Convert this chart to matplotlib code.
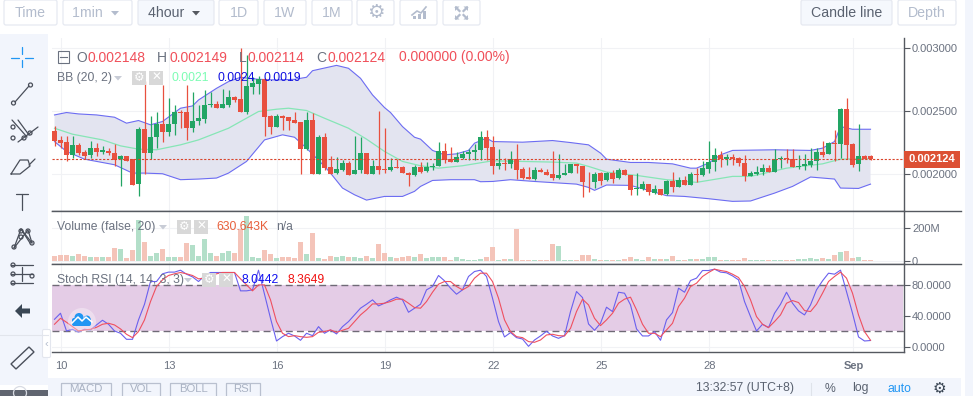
import numpy as np
import matplotlib
matplotlib.use('Agg')
import matplotlib.pyplot as plt
from matplotlib.patches import FancyBboxPatch, Rectangle, Circle, Polygon

plt.rcParams['font.family'] = ['Liberation Sans', 'DejaVu Sans']

# prices are in units of 0.000001
opens = [2343,2272,2257,2149,2233,2173,2149,2207,2178,2186,2168,2120,2147,2123,1921,2359,2165,2293,2398,2335,
         2396,2493,2493,2367,2420,2440,2546,2556,2527,2546,2609,2595,2496,2692,2716,2750,2461,2377,2461,2454,
         2430,2414,2202,2430,2002,2296,2057,2007,2036,2091,1999,2031,2170,1999,2068,2044,2031,2057,2060,2013,
         1992,2060,2023,2055,2063,2186,2123,2097,2133,2157,2173,2189,2293,2215,2063,2089,2078,2120,2044,1979,
         1965,2036,2021,2005,1973,1992,2007,2081,2068,1942,1937,2007,1952,2007,1968,2036,1997,1881,1884,1926,
         1852,1887,1842,1950,1900,1958,1916,2005,1992,2044,2094,2154,2120,2139,2128,2091,1986,1999,2018,2052,
         2018,2120,2131,2123,2055,2063,2076,2102,2175,2157,2249,2241,2517,2241,2078,2147,2148]
highs = [2383,2299,2299,2304,2246,2194,2265,2251,2220,2207,2241,2154,2147,2123,2377,2737,2461,2496,2706,2603,
         2548,2504,2706,2653,2548,2666,2653,2580,2671,2666,2619,3000,2942,2766,2777,2758,2469,2477,2469,2456,
         2490,2414,2496,2488,2312,2330,2147,2141,2115,2102,2299,2293,2170,2115,2501,2364,2128,2120,2063,2015,
         2076,2094,2097,2089,2259,2251,2215,2173,2181,2202,2241,2343,2351,2299,2202,2128,2186,2241,2055,2057,
         2057,2049,2044,2186,2162,2083,2081,2081,2068,2021,2015,2015,2015,2036,2049,2044,1997,2010,1944,1926,
         1913,1887,1958,2021,1981,1984,2015,2049,2107,2265,2207,2181,2162,2162,2141,2154,2023,2068,2083,2076,
         2199,2147,2199,2202,2154,2162,2207,2207,2262,2257,2351,2525,2603,2246,2398,2154,2149]
lows = [2220,2212,2102,2133,2149,2120,2128,2147,2162,2154,2068,1905,2107,1918,1826,2005,2123,2207,2259,2304,
        2312,2364,2272,2338,2393,2409,2535,2527,2527,2535,2574,2496,2477,2635,2635,2304,2320,2372,2351,2351,
        2406,2005,2194,1999,2002,2036,2002,2005,2023,1997,1999,2010,1999,1999,2005,2010,2023,2052,2007,1905,
        1984,2010,2018,2036,2063,2089,2094,2097,2120,2115,2115,2115,2115,2005,2041,2036,2047,1963,1965,1965,
        1958,2015,1997,1958,1965,1992,2007,2010,1818,1858,1892,1913,1944,1931,1965,1992,1834,1839,1879,1834,
        1847,1839,1839,1858,1897,1913,1913,1937,1989,2010,2023,2055,2076,2076,2063,1944,1984,1997,1997,2018,
        2015,2049,2089,2055,2044,2036,2057,2036,2136,2157,2102,2128,2120,2055,2023,2118,2114]
closes = [2267,2249,2149,2231,2165,2147,2207,2178,2189,2165,2115,2147,2107,1918,2359,2165,2296,2396,2335,2396,
          2490,2488,2364,2422,2446,2546,2556,2527,2553,2611,2590,2496,2695,2719,2750,2456,2375,2461,2448,2425,
          2406,2202,2427,1999,2296,2049,2002,2041,2089,1997,2034,2170,1999,2068,2036,2031,2057,2052,2007,1992,
          2057,2021,2057,2068,2186,2112,2094,2136,2162,2178,2196,2293,2212,2063,2089,2078,2118,2036,1973,1965,
          2034,2015,1997,1973,1994,2013,2081,2063,1937,1937,2002,1950,2007,1965,2034,1992,1879,1895,1923,1858,
          1884,1839,1947,1897,1955,1913,2005,1992,2049,2097,2154,2120,2139,2118,2086,1984,2013,2021,2049,2018,
          2120,2131,2120,2055,2068,2081,2105,2175,2154,2251,2241,2519,2235,2076,2147,2118,2124]

# volume in millions
volumes = [31,35,35,29,41,29,22,22,22,22,78,69,18,65,249,114,27,45,71,22,
           22,22,106,96,29,133,47,29,45,57,47,194,273,20,16,65,41,18,22,22,
           18,114,41,169,16,12,29,22,27,22,22,16,29,18,102,47,22,16,22,27,
           22,41,16,22,22,22,6,22,10,2,2,10,22,84,6,10,10,194,4,2,
           4,2,4,102,90,1,1,1,35,35,10,4,1,4,6,10,22,10,4,22,
           10,10,10,29,4,4,10,10,10,22,22,4,4,4,4,16,4,4,4,4,
           4,4,4,4,10,10,16,10,16,10,35,53,59,16,22,1,1]

# Bollinger band vertices (candle number, price)
upper_idx = [0,2,4,7,10,12,14,16,18,21,23,24,27,29,31,34,37,40,42,43,47,49,51,53,55,56,58,60,61,63,65,67,69,70,72,
             73,78,83,86,89,91,92,96,99,103,106,107,109,111,113,120,126,128,130,131,133,136]
upper_val = [2469,2488,2477,2469,2451,2404,2425,2391,2417,2522,2540,2587,2679,2732,2766,2750,2745,2750,2766,2818,
             2860,2837,2758,2627,2527,2488,2377,2293,2278,2189,2154,2162,2189,2246,2286,
             2259,2254,2267,2251,2233,2168,2120,2094,2094,2083,2049,2049,2089,2154,2189,2194,2189,2207,2259,2377,2356,2356]
mid_idx = [0,3,8,11,14,17,21,24,29,31,34,37,39,42,45,49,52,55,58,61,64,68,73,83,87,89,92,97,102,107,113,116,122,128,131,136]
mid_val = [2364,2317,2272,2225,2199,2194,2233,2272,2364,2417,2496,2514,2522,2504,2443,2364,2278,2181,2102,2068,2049,2068,
           2107,2097,2089,2063,2018,1992,1958,1937,1984,1984,2049,2083,2120,2125]
lower_idx = [0,2,5,10,13,15,18,21,24,27,29,32,35,38,40,42,45,46,48,50,52,55,58,60,61,63,66,70,71,73,76,80,87,89,90,92,96,
             99,102,105,109,113,116,120,123,126,130,131,134,136]
lower_val = [2259,2181,2120,2076,2010,2010,2005,1958,1963,1971,2010,2102,2272,2312,2293,2207,2063,2010,1892,1839,1797,
             1826,1826,1866,1905,1952,1958,1958,1942,1944,1958,1944,1923,1897,1874,1916,1913,
             1874,1832,1826,1808,1787,1790,1852,1905,1979,1963,1892,1889,1923]

stoch_k = [35.8,43.7,20.5,22.7,18.8,22.7,21.9,28.4,34.5,29.3,20.5,17.5,9.6,9.6,35,55.5,85.2,85.2,95.3,97.5,
           97.5,100,94.8,91.3,85.2,92.6,97,97,97,97,97,73,73,74.3,100,68.6,37.1,7.4,13.1,17.5,
           14,8.3,17.5,14.4,26.2,17.5,21.9,16.6,26.2,32.8,41.5,50.3,55.5,61.2,53.3,56.8,61.2,64.7,61.2,45,
           50.3,55.5,74.3,78.7,93.1,86.1,76.5,68.6,74.3,91.8,98.3,100,91.8,63.4,32.8,12.7,18.4,11.8,10,0.4,
           8.7,14,20.1,14,10.9,14.4,45.9,72.1,64.2,29.7,21.4,30.6,51.6,45.9,71.2,69.9,54.6,23.2,14,14,
           19.7,8.3,35,44.6,76.5,71.2,86.5,89.6,99.6,99.6,101.4,97.5,96.6,92.6,87.4,59,39.3,20.5,29.3,24.9,
           43.7,55.5,71.2,56.8,46.8,41.5,54.6,74.3,86.1,96.1,94.8,100.1,72.1,43.7,12.7,7.4,8.04]
stoch_d = [29.3,37.1,31.9,26.2,20.5,21.9,22.7,25.3,29.3,30.6,28.4,23.2,16.2,11.8,19.7,35,59,78.7,87.4,93.1,
           95.3,97,95.3,93.1,88.7,89.6,91.8,95.3,97,97,97,88.7,80.8,73,80.8,80.8,61.2,32.8,17.5,13.1,
           14.4,13.1,12.2,13.1,18.8,19.7,21.9,18.8,21.4,24,32.8,41.5,48.1,55.9,55.9,56.8,59,62.1,62.1,56.8,
           51.1,50.3,59,71.2,81.7,85.2,85.2,78.7,74.3,78.7,89.6,96.1,96.1,85.2,63.4,35,19.7,13.1,11.8,6.6,
           5.7,8.7,15.3,16.2,14.4,14,24,45.9,62.1,54.6,37.1,27.5,35,43.7,56.8,62.1,64.7,48.1,29.3,17.5,
           17.5,13.1,21.9,30.6,52.4,63.4,78.7,83,91.8,97,101.4,99.6,98.3,94.8,90.5,78.7,61.2,39.3,29.3,24.9,
           32.8,41.5,56.8,60.3,57.7,47.2,45.9,55.5,69.9,85.2,91.8,97.5,89.6,69.9,41.5,19.7,8.36]

day_ticks = [1.15, 19.15, 37.15, 55.15, 73.15, 91.15, 109.15, 133.15]
day_labels = ['10', '13', '16', '19', '22', '25', '28', 'Sep']
price_ticks = [0.002, 0.0025, 0.003]
volume_ticks = [0, 200]
stoch_ticks = [0, 40, 80]
last_price = 0.002124

RED = '#e8503f'
GREEN = '#22a564'
GREY = '#6b7280'
GRID = '#f1f2f5'
AXIS = '#555960'


def panel(top, bottom):
    ax = fig.add_axes([52 / 973, 1 - bottom / 396, (904.3 - 52) / 973, (bottom - top) / 396])
    ax.set_xlim(-0.417, 141.63)
    ax.set_facecolor('white')
    for side in ['top', 'left']:
        ax.spines[side].set_visible(False)
    for side in ['right', 'bottom']:
        ax.spines[side].set_color(AXIS)
        ax.spines[side].set_linewidth(1.0)
    ax.yaxis.tick_right()
    ax.tick_params(axis='y', length=4, width=0.8, color=AXIS, labelcolor=GREY, labelsize=8, pad=1.5)
    ax.set_xticks(day_ticks)
    ax.tick_params(axis='x', length=0)
    ax.set_xticklabels([])
    ax.grid(True, color=GRID, linewidth=0.8)
    ax.set_axisbelow(True)
    return ax


fig = plt.figure(figsize=(9.73, 3.96), dpi=100)

o = np.array(opens) / 1e6
h = np.array(highs) / 1e6
l = np.array(lows) / 1e6
c = np.array(closes) / 1e6
idx = np.arange(len(o))
up = c >= o
colors = np.where(up, GREEN, RED)

# candles and bands
ax = panel(38, 211)
ax.set_ylim(0.001711, 0.003076)
ax.set_yticks(price_ticks)
ax.set_yticklabels([f'{v:.6f}' for v in price_ticks])
ax.fill(np.r_[upper_idx, lower_idx[::-1]], np.r_[upper_val, lower_val[::-1]] / 1e6, color='#e3e4f0', lw=0, zorder=1)
ax.plot(upper_idx, np.array(upper_val) / 1e6, color='#6c6cf2', lw=0.8, zorder=2)
ax.plot(lower_idx, np.array(lower_val) / 1e6, color='#6c6cf2', lw=0.8, zorder=2)
ax.plot(mid_idx, np.array(mid_val) / 1e6, color='#86e6b6', lw=0.9, zorder=2)
ax.vlines(idx, l, h, colors=colors, lw=0.9, zorder=3)
ax.bar(idx, np.maximum(np.abs(c - o), 1.5e-6), bottom=np.minimum(o, c), width=0.72, color=colors, lw=0, zorder=4)
ax.axhline(last_price, color='#d9452c', lw=0.8, dashes=(2, 1.5), zorder=5)

# volume
ax2 = panel(211, 264.4)
ax2.set_ylim(-23.5, 307)
ax2.set_yticks(volume_ticks)
ax2.set_yticklabels(['0', '200M'])
ax2.bar(idx, volumes, width=0.83, color=np.where(up, '#b3dfc9', '#f4c4b9'), lw=0, zorder=3)

# stoch rsi
ax3 = panel(264.4, 352)
ax3.set_ylim(-7, 107.6)
ax3.set_yticks(stoch_ticks)
ax3.set_yticklabels([f'{v:.4f}' for v in stoch_ticks])
ax3.axhspan(21, 80, xmax=0.9985, color='#e4cce6', lw=0, zorder=1)
ax3.axhline(80, color='#6f6a76', lw=1.0, dashes=(5, 3), zorder=2)
ax3.axhline(21, color='#6f6a76', lw=1.0, dashes=(5, 3), zorder=2)
ax3.plot(idx, stoch_k, color='#6a60ee', lw=0.8, zorder=3)
ax3.plot(idx, stoch_d, color='#ef5060', lw=0.8, zorder=4)
for v, label in zip(day_ticks, day_labels):
    ax3.annotate(label, (v, 0), xycoords=('data', 'axes fraction'), xytext=(0, -10), textcoords='offset points',
                 ha='center', va='center', fontsize=8, color=GREY, fontweight='bold' if label == 'Sep' else 'normal')

# everything around the chart, in pixels
ov = fig.add_axes([0, 0, 1, 1], zorder=10)
ov.set_xlim(0, 973)
ov.set_ylim(396, 0)
ov.axis('off')


def button(x0, x1, y0, y1, label=None, color='#b3bccd', bg='white', size=10.2):
    ov.add_patch(FancyBboxPatch((x0 + 2, y0 + 2), x1 - x0 - 4, y1 - y0 - 4, boxstyle='round,pad=2',
                                fc=bg, ec='#e6e9f1', lw=0.9))
    if label:
        ov.text((x0 + x1) / 2, (y0 + y1) / 2 + 0.5, label, color=color, fontsize=size, ha='center', va='center')


def px_text(x, y, s, color=GREY, size=8.7, **kw):
    ov.text(x, y, s, color=color, fontsize=size, ha='left', va='center', **kw)


def caret(x, y, color='#c8ccd6', w=4):
    ov.add_patch(Polygon([(x - w, y - 2), (x + w, y - 2), (x, y + 2.5)], fc=color, ec='none'))


def tool_boxes(x, y):
    for x0, s in [(x, '\u2699'), (x + 17, '\u2715')]:
        ov.add_patch(Rectangle((x0, y - 7), 14, 14, fc='#d8d8d8', ec='none'))
        ov.text(x0 + 7, y, s, color='white', fontsize=8.5, ha='center', va='center', fontweight='bold')


def icon(xs, ys, color='#4a4f5a', lw=0.9):
    ov.plot(xs, ys, color=color, lw=lw, solid_capstyle='round')


# side and bottom bars
ov.add_patch(Rectangle((0, 34), 48, 351, fc='#f2f5fc', ec='none'))
ov.add_patch(Rectangle((48, 377.5), 913, 18.5, fc='#f2f5fc', ec='none'))
ov.add_patch(Rectangle((965, 0), 8, 396, fc='#f2f5fc', ec='none'))
ov.add_patch(Rectangle((0, 390), 48, 6, fc='#606570', ec='none'))
ov.plot([0, 48], [334.5, 334.5], color='#e2e5ec', lw=0.8)
ov.plot([52, 961], [211, 211], color=AXIS, lw=1.0)
ov.plot([52, 961], [264.4, 264.4], color=AXIS, lw=1.0)

# top toolbar
button(4, 57, 0, 25, 'Time')
button(63, 132, 0, 25, '1min     ')
caret(115, 13, '#b3bccd')
button(138, 214, 0, 25, '4hour     ', color='#5a6270', bg='#f5f8fd')
caret(196, 13, '#555960')
button(219, 258, 0, 25, '1D')
button(264, 306, 0, 25, '1W')
button(312, 352, 0, 25, '1M')
button(357, 394, 0, 25)
ov.text(375.5, 13, '\u2699', color='#b3bccd', fontsize=14, ha='center', va='center')
button(400, 437, 0, 25)
ov.plot([412, 417, 421, 426], [15, 11, 13, 7], color='#b3bccd', lw=1.2)
for bx, bh in [(413, 3), (418, 5), (423, 8)]:
    ov.add_patch(Rectangle((bx, 19 - bh), 2.5, bh, fc='#b3bccd', ec='none'))
button(443, 480, 0, 25)
# four little arrows pointing outwards
for sx, sy in [(-1, -1), (1, -1), (-1, 1), (1, 1)]:
    cx, cy = 461.5 + sx * 5.5, 13 + sy * 5.5
    ov.plot([461.5 + sx * 2, cx], [13 + sy * 2, cy], color='#b3bccd', lw=1.6)
    ov.add_patch(Polygon([(cx + sx, cy + sy), (cx - sx * 3.5, cy + sy), (cx + sx, cy - sy * 3.5)],
                         fc='#b3bccd', ec='none'))
button(801, 892, 0, 25, 'Candle line', color='#5a6270', bg='#f5f8fd')
button(898, 956, 0, 25, 'Depth')

# sidebar icons
icon([22, 22], [47, 54], '#2196f3')
icon([22, 22], [60, 67], '#2196f3')
icon([11, 19], [58, 58], '#2196f3')
icon([25, 33], [58, 58], '#2196f3')
icon([15, 29], [102, 86])
for cx, cy in [(13.5, 103), (30.5, 85), (13, 127), (24, 138), (13, 138), (30, 133)]:
    ov.add_patch(Circle((cx, cy), 2.0, fc='none', ec='#4a4f5a', lw=0.9))
icon([12, 27], [120, 137])
icon([18, 38], [142, 127])
icon([18, 29], [120, 135])
icon([11, 20, 30, 28, 20, 11], [174, 174, 166, 160, 160, 174])
icon([29, 35], [165, 159])
icon([16, 28], [194, 194])
icon([22, 22], [194, 210])
for pts in [[(14, 248), (21, 229), (30, 243)], [(14, 248), (28, 230), (32, 243)], [(21, 229), (32, 243)]]:
    icon([p[0] for p in pts], [p[1] for p in pts])
for cx, cy in [(14, 247), (21, 231), (28, 231), (32, 243), (21, 237)]:
    ov.add_patch(Circle((cx, cy), 2.0, fc='#f2f5fc', ec='#4a4f5a', lw=0.9))
for ly in [265, 274, 283]:
    icon([11, 33], [ly, ly])
icon([22, 22], [267, 281])
for cx, cy in [(13, 265), (32, 276), (13, 274), (13, 283)]:
    ov.add_patch(Circle((cx, cy), 2.0, fc='#f2f5fc', ec='#4a4f5a', lw=0.9))
ov.add_patch(Polygon([(15, 311), (22, 304), (22, 308.5), (30, 308.5), (30, 313.5), (22, 313.5), (22, 318)],
                     fc='#3a4654', ec='none'))
ov.add_patch(Polygon([(11, 364), (29, 347), (34, 352), (16, 369)], fc='none', ec='#4a4f5a', lw=1.0))
ov.add_patch(Circle((20, 393), 6.5, fc='none', ec='#d8dbe3', lw=0.9))
ov.add_patch(FancyBboxPatch((44, 331), 5, 25, boxstyle='round,pad=1.5', fc='white', ec='#e3e6ee', lw=0.8))
ov.text(46.5, 343.5, '\u2039', color='#b3bccd', fontsize=8, ha='center', va='center')

# logo
ov.add_patch(Circle((82, 322), 14, fc='white', ec='none', alpha=0.35))
ov.add_patch(FancyBboxPatch((74, 320), 15, 4, boxstyle='round,pad=2', fc='#2196f3', ec='none'))
ov.add_patch(Circle((79, 317.5), 4.5, fc='#2196f3', ec='none'))
ov.add_patch(Circle((87, 319), 3.5, fc='#2196f3', ec='none'))
ov.plot([72, 78, 82, 86, 92], [323, 317, 321, 317, 322], color='white', lw=1.1)

# legend lines
ov.add_patch(Rectangle((57.5, 51), 11.5, 11.5, fc='none', ec='#6b7280', lw=0.8))
ov.plot([60, 67], [57, 57], color='#6b7280', lw=0.8)
VAL = '#f0505a'
for x, s in [(76, 'O'), (157, 'H'), (239, 'L'), (316, 'C')]:
    px_text(x, 57.5, s, size=10)
for x, s in [(88, '0.002148'), (169, '0.002149'), (248, '0.002114'), (327, '0.002124'), (399, '0.000000 (0.00%)')]:
    px_text(x, 57.5, s, color=VAL, size=10)

px_text(57, 78, 'BB (20, 2)')
caret(118, 78)
tool_boxes(132, 78)
px_text(171, 78, '0.0021', color='#7dfcb4')
px_text(217, 78, '0.0024', color='#1010e0')
px_text(263, 78, '0.0019', color='#1010e0')

px_text(57, 227, 'Volume (false, 20)')
caret(163, 227)
tool_boxes(177, 227)
px_text(216, 227, '630.643K', color='#e8603c')
px_text(276, 227, 'n/a')

px_text(57, 280, 'Stoch RSI (14, 14, 3, 3)')
caret(188, 280)
tool_boxes(202, 280)
px_text(242, 280, '8.0442', color='#1010f0')
px_text(288, 280, '8.3649', color='#f01010')

# price tag
ov.add_patch(Rectangle((904.3, 151), 56, 17, fc='#dc5034', ec='none'))
ov.text(932, 159.5, '0.002124', color='white', fontsize=8, fontweight='bold', ha='center', va='center')

# bottom toolbar, moved up a little so the words are not cut by the edge
for x0, x1, s in [(61, 111, 'MACD'), (122, 160, 'VOL'), (170, 216, 'BOLL'), (226, 260, 'RSI')]:
    ov.add_patch(Rectangle((x0, 383), x1 - x0, 16, fc='none', ec='#b9c0cf', lw=0.9))
    ov.text((x0 + x1) / 2, 389.5, s, color='#a9b2c3', fontsize=8.2, ha='center', va='center')
px_text(696, 388.5, '13:32:57 (UTC+8)', color='#5a6270', size=8.8)
ov.plot([811, 811], [383, 396], color='#dfe3ea', lw=0.8)
px_text(825, 388.5, '%', color='#5a6270', size=8.8)
px_text(852, 388.5, 'log', color='#5a6270', size=8.8)
px_text(888, 388.5, 'auto', color='#2196f3', size=8.8)
ov.text(939, 388.5, '\u2699', color='#3a4654', fontsize=11, ha='center', va='center')

fig.savefig('out.png', dpi=100)
